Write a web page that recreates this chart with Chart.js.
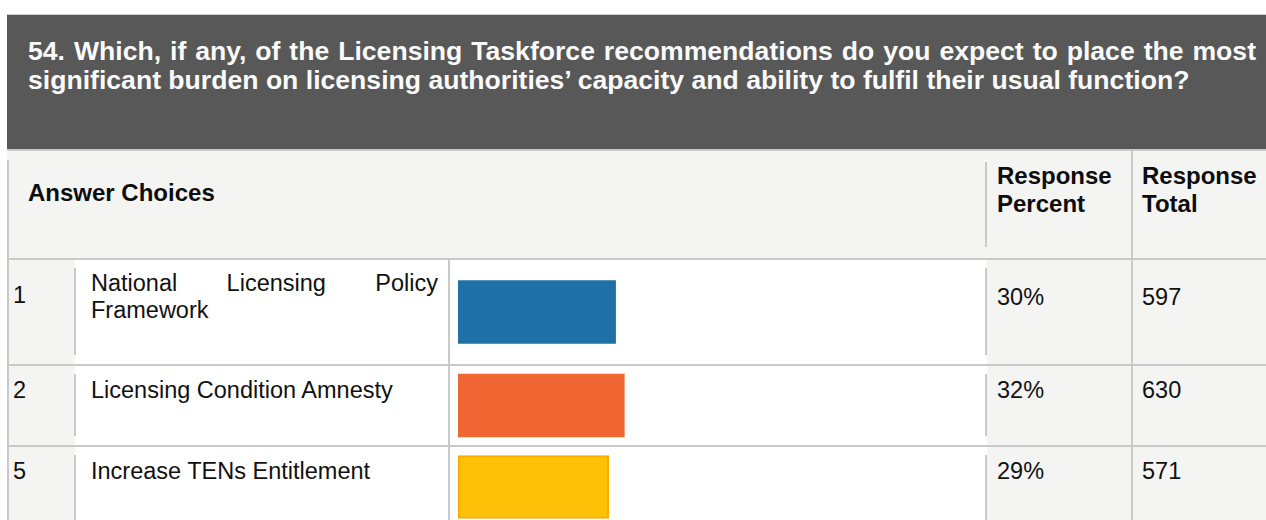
<!DOCTYPE html>
<html>
<head>
<meta charset="utf-8">
<script src="https://cdn.jsdelivr.net/npm/chart.js@4.4.1/dist/chart.umd.min.js"></script>
<style>
  html, body { margin: 0; padding: 0; background: #fff; overflow: hidden; }
  body { width: 1266px; height: 520px; position: relative; font-family: "Liberation Sans", Arial, sans-serif; color: #111; }
  .box { position: absolute; }
  .line { position: absolute; background: #c9c9c9; }
  .title { left: 7px; top: 14px; width: 1270px; height: 135px; background: #575857; border-top: 1px solid #cdcdcd; box-sizing: border-box; }
  .title .q { position: absolute; left: 21px; top: 22px; margin: 0; color: #fafafa; font-weight: bold; font-size: 26.6px; line-height: 29px; }
  .title .l1 { width: 1228px; white-space: nowrap; text-align: justify; text-align-last: justify; }
  .title .l2 { white-space: nowrap; }
  .head { left: 7px; top: 151px; width: 1270px; height: 107px; background: #f4f4f2; }
  .th { position: absolute; font-weight: bold; font-size: 24px; line-height: 28px; color: #0d0d0d; }
  .td { position: absolute; font-size: 23.5px; line-height: 27px; color: #111; }
  .label { text-align: justify; width: 347px; }
  canvas { position: absolute; }
</style>
</head>
<body>
<div class="box title">
  <div class="q">
    <div class="l1">54. Which, if any, of the Licensing Taskforce recommendations do you expect to place the most</div>
    <div class="l2">significant burden on licensing authorities’ capacity and ability to fulfil their usual function?</div>
  </div>
</div>
<div class="line" style="left:7px;top:149px;width:1270px;height:2px"></div>
<div class="box head"></div>
<div class="th" style="left:28px;top:179px">Answer Choices</div>
<div class="th" style="left:997px;top:162px">Response<br>Percent</div>
<div class="th" style="left:1142px;top:162px">Response<br>Total</div>
<div id="rows"></div>

<script>
// answer choices table
const choiceNumbers = ['1', '2', '5'];
const choiceLabels = [
    'National Licensing Policy Framework',
    'Licensing Condition Amnesty',
    'Increase TENs Entitlement'
];
const responsePercent = ['30%', '32%', '29%'];
const responseTotal = [597, 630, 571];
const answeredTotal = 1970;

const barColors = ['#1e70a6', '#f06733', '#fdc107'];
const barBorders = ['#1e70a6', '#f06733', '#ffa800'];
const barBorderWidths = [0, 0, 2];

// row boxes: top, height, and the text offsets inside each row
const rowLayout = [
    { top: 258, height: 106, numTop: 24, labelTop: 12, valTop: 26 },
    { top: 364, height: 81, numTop: 13, labelTop: 13, valTop: 13 },
    { top: 445, height: 82, numTop: 13, labelTop: 13, valTop: 13 }
];

const rows = document.getElementById('rows');

function addDiv(cls, style, html) {
    const d = document.createElement('div');
    d.className = cls;
    d.setAttribute('style', style);
    if (html !== undefined) d.innerHTML = html;
    rows.appendChild(d);
    return d;
}

// grid lines of the header
addDiv('line', 'left:7px;top:160px;width:2px;height:400px');
addDiv('line', 'left:985px;top:162px;width:2px;height:85px');
addDiv('line', 'left:1131px;top:151px;width:2px;height:107px');

choiceLabels.forEach((label, i) => {
    const r = rowLayout[i];
    const t = r.top;
    const last = i === choiceLabels.length - 1;
    // cell backgrounds
    addDiv('box', `left:9px;top:${t}px;width:66px;height:${r.height}px;background:#f4f4f2`);
    addDiv('box', `left:987px;top:${t}px;width:290px;height:${r.height}px;background:#f4f4f2`);
    // borders (inner column rules stop short of the row edges)
    const innerH = last ? r.height : r.height - 19;
    addDiv('line', `left:7px;top:${t}px;width:1270px;height:2px`);
    addDiv('line', `left:74px;top:${t + 10}px;width:2px;height:${innerH}px`);
    addDiv('line', `left:448px;top:${t}px;width:2px;height:${r.height}px`);
    addDiv('line', `left:985px;top:${t + 10}px;width:2px;height:${innerH}px`);
    addDiv('line', `left:1131px;top:${t}px;width:2px;height:${r.height}px`);
    // texts
    addDiv('td', `left:13px;top:${t + r.numTop}px`, choiceNumbers[i]);
    addDiv('td label', `left:91px;top:${t + r.labelTop}px`, label);
    addDiv('td', `left:997px;top:${t + r.valTop}px`, responsePercent[i]);
    addDiv('td', `left:1142px;top:${t + r.valTop}px`, String(responseTotal[i]));

    // one bar per row
    const canvas = document.createElement('canvas');
    canvas.width = 520;
    canvas.height = r.height - 2;
    canvas.style.left = '458px';
    canvas.style.top = (t + 2) + 'px';
    rows.appendChild(canvas);

    new Chart(canvas, {
        type: 'bar',
        data: {
            labels: [label],
            datasets: [{
                data: [responseTotal[i]],
                backgroundColor: barColors[i],
                borderColor: barBorders[i],
                borderWidth: barBorderWidths[i],
                borderSkipped: false,
                barThickness: 63
            }]
        },
        options: {
            indexAxis: 'y',
            responsive: false,
            animation: false,
            layout: { padding: 0 },
            plugins: {
                legend: { display: false },
                tooltip: { enabled: false }
            },
            scales: {
                x: { display: false, min: 0, max: answeredTotal },
                y: { display: false }
            }
        }
    });
});
</script>
</body>
</html>
